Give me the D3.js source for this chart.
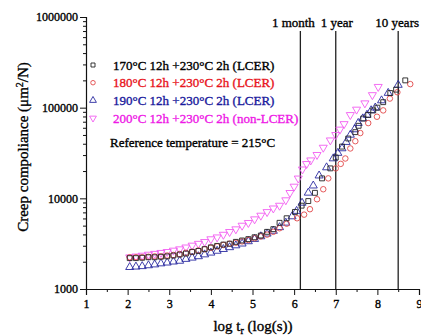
<!DOCTYPE html>
<html>
<head>
<meta charset="utf-8">
<script src="https://cdn.jsdelivr.net/npm/d3@7"></script>
<style>
  body { margin: 0; background: #fff; }
  svg { display: block; font-family: "Liberation Serif", "Times New Roman", serif; }
  svg text { font-family: "Liberation Serif", "Times New Roman", serif; stroke-width: 0.35px; }
</style>
</head>
<body>
<div id="chart"></div>
<script>
// log t_r (log s) and creep compliance (um^2/N)
const logT170 = [2.05,2.2,2.35,2.5,2.65,2.8,2.95,3.1,3.25,3.4,3.55,3.7,3.85,4.0,4.15,4.3,4.45,4.6,4.75,4.9,5.05,5.2,5.35,5.5,5.65,5.82,6.02,6.18,6.34,6.5,6.67,6.87,7.0,7.15,7.3,7.47,7.55,7.66,7.78,7.9,8.0,8.14,8.31,8.45,8.67];
const cc170 = [2190,2190,2210,2240,2240,2270,2290,2340,2400,2460,2570,2630,2750,2880,2990,3090,3160,3310,3430,3550,3720,3890,4270,4570,5370,6030,7080,8300,9330,11500,16600,21400,28200,37200,45700,53700,63100,75900,83200,93300,100000,115000,145000,158000,200000];

const logT180 = [2.05,2.2,2.35,2.5,2.65,2.8,2.95,3.1,3.25,3.4,3.55,3.7,3.85,4.0,4.15,4.3,4.45,4.6,4.75,4.9,5.05,5.2,5.35,5.5,5.65,5.82,6.07,6.24,6.38,6.55,6.7,6.82,7.0,7.12,7.23,7.35,7.47,7.59,7.78,7.99,8.14,8.3,8.48,8.79];
const cc180 = [2240,2240,2240,2270,2290,2290,2340,2370,2430,2510,2570,2660,2750,2850,2950,3060,3160,3240,3350,3470,3630,3800,3980,4270,4680,5250,6030,6610,7590,9770,12600,16600,21400,24000,27500,35500,42700,52500,67600,79400,93300,126000,148000,182000];

const logT190 = [2.05,2.2,2.35,2.5,2.65,2.8,2.95,3.1,3.25,3.4,3.55,3.7,3.85,4.0,4.15,4.3,4.45,4.6,4.75,4.9,5.05,5.2,5.35,5.5,5.65,5.8,5.95,6.06,6.19,6.34,6.46,6.6,6.78,6.94,7.05,7.15,7.25,7.35,7.45,7.54,7.65,7.75,7.85,7.95,8.1,8.26,8.5];
const cc190 = [1740,1760,1780,1820,1860,1910,1950,2000,2040,2140,2210,2290,2400,2510,2630,2750,2880,3020,3160,3350,3550,3800,4070,4370,4790,5370,6310,7240,8910,11500,13800,17800,21900,27500,31600,35500,41700,50100,57500,67600,75900,83200,93300,100000,120000,145000,178000];

const logT200 = [2.05,2.2,2.35,2.5,2.65,2.8,2.95,3.1,3.25,3.4,3.55,3.7,3.85,4.0,4.15,4.3,4.45,4.6,4.75,4.9,5.05,5.2,5.35,5.5,5.65,5.8,5.9,6.0,6.1,6.2,6.3,6.4,6.55,6.7,6.87,7.0,7.1,7.2,7.35,7.5,7.7,7.88,8.02];
const cc200 = [2240,2290,2340,2400,2450,2510,2570,2660,2750,2880,3020,3160,3310,3550,3720,3980,4270,4570,5010,5370,5890,6460,7080,7760,8320,9550,11500,13500,16600,20900,24000,26300,30200,36300,43700,50100,57500,66100,83200,95500,112000,138000,170000];

const seriesNames = ["170°C 12h +230°C 2h (LCER)", "180°C 12h +230°C 2h (LCER)", "190°C 12h +230°C 2h (LCER)", "200°C 12h +230°C 2h (non-LCER)"];
const xTicks = [1,2,3,4,5,6,7,8,9];
const yTicks = [1000,10000,100000,1000000];
const markers = [
  { label: "1 month", t: 6.15, dx: -7 },
  { label: "1 year", t: 7.0, dx: 1 },
  { label: "10 years", t: 8.5, dx: -1 }
];

const W = 421, H = 336;
const svg = d3.select("#chart").append("svg").attr("width", W).attr("height", H);

const x = d3.scaleLinear().domain([1, 9]).range([86, 419]);
const y = d3.scaleLog().domain([1000, 1000000]).range([289, 17]);

const series = [
  { name: seriesNames[3], t: logT200, c: cc200, sym: d3.symbolTriangle, rot: 180, mark: "#f25cf0", text: "#ee18e6" },
  { name: seriesNames[2], t: logT190, c: cc190, sym: d3.symbolTriangle, rot: 0, mark: "#2a2aa0", text: "#1a1a9c" },
  { name: seriesNames[1], t: logT180, c: cc180, sym: d3.symbolCircle, rot: 0, mark: "#e2484a", text: "#e8141c" },
  { name: seriesNames[0], t: logT170, c: cc170, sym: d3.symbolSquare, rot: 0, mark: "#222", text: "#000" }
];

// axes
svg.append("g").attr("transform", "translate(0,289)")
  .call(d3.axisBottom(x).tickValues(xTicks).tickSize(6).tickPadding(4).tickFormat(d3.format("d")));
svg.append("g").attr("transform", "translate(0,289)")
  .call(d3.axisBottom(x).tickValues(d3.range(1.5, 9, 1)).tickSize(3).tickFormat(""))
  .select(".domain").remove();

svg.append("g").attr("transform", "translate(86,0)")
  .call(d3.axisLeft(y).tickValues(yTicks).tickSize(6).tickPadding(2).tickFormat(d3.format("d")));
svg.append("g").attr("transform", "translate(86,0)")
  .call(d3.axisLeft(y).tickValues(y.ticks().filter(v => !yTicks.includes(v))).tickSize(3).tickFormat(""))
  .select(".domain").remove();

svg.selectAll(".domain").attr("stroke", "#111").attr("stroke-width", 1.2);
svg.selectAll(".tick line").attr("stroke", "#111").attr("stroke-width", 1);
svg.selectAll(".tick text")
  .attr("font-size", 12).attr("fill", "#000").attr("stroke", "#000");

// time markers
markers.forEach(m => {
  svg.append("line")
    .attr("x1", x(m.t)).attr("x2", x(m.t))
    .attr("y1", 31).attr("y2", 289)
    .attr("stroke", "#222").attr("stroke-width", 1.3);
  svg.append("text")
    .attr("x", x(m.t) + m.dx).attr("y", 27)
    .attr("text-anchor", "middle")
    .attr("font-size", 13)
    .attr("stroke", "#000")
    .text(m.label);
});

// data points
series.forEach(s => {
  const sym = d3.symbol().type(s.sym).size(s.sym === d3.symbolTriangle ? 28 : 24);
  svg.append("g").selectAll("path")
    .data(s.t.map((t, i) => [t, s.c[i]]))
    .join("path")
    .attr("d", sym)
    .attr("transform", d => `translate(${x(d[0])},${y(d[1])}) rotate(${s.rot})`)
    .attr("fill", "none")
    .attr("stroke", s.mark)
    .attr("stroke-width", 0.9);
});

// legend
const legendRows = [series[3], series[2], series[1], series[0]];
legendRows.forEach((s, i) => {
  const cy = 65 + i * 17.7;
  svg.append("path")
    .attr("d", d3.symbol().type(s.sym).size(s.sym === d3.symbolTriangle ? 20 : 16))
    .attr("transform", `translate(93,${cy}) rotate(${s.rot})`)
    .attr("fill", "none").attr("stroke", s.mark).attr("stroke-width", 0.9);
  svg.append("text")
    .attr("x", 113).attr("y", cy + 4.5)
    .attr("font-size", 13)
    .attr("fill", s.text).attr("stroke", s.text)
    .text(s.name);
});

svg.append("text")
  .attr("x", 110).attr("y", 147)
  .attr("font-size", 13)
  .attr("stroke", "#000")
  .text("Reference temperature = 215°C");

// axis titles
svg.append("text")
  .attr("transform", "translate(28,147) rotate(-90)")
  .attr("text-anchor", "middle")
  .attr("font-size", 15)
  .attr("stroke", "#000")
  .html('Creep compoliance (μm<tspan dy="-5" font-size="10">2</tspan><tspan dy="5">/N)</tspan>');

svg.append("text")
  .attr("x", 253).attr("y", 331)
  .attr("text-anchor", "middle")
  .attr("font-size", 15)
  .attr("stroke", "#000")
  .html('log t<tspan dy="3" font-size="10">r</tspan><tspan dy="-3"> (log(s))</tspan>');
</script>
</body>
</html>
